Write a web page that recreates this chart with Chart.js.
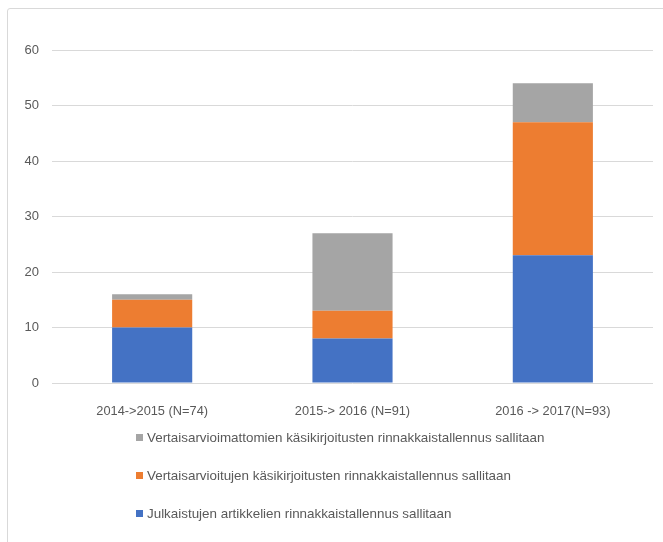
<!DOCTYPE html>
<html>
<head>
<meta charset="utf-8">
<script src="https://cdn.jsdelivr.net/npm/chart.js@4.4.1/dist/chart.umd.min.js"></script>
<style>
  html, body { margin: 0; padding: 0; background: #fff; }
  #wrap { position: relative; width: 663px; height: 542px; overflow: hidden; }
  #frame { position: absolute; left: 7px; top: 8px; width: 700px; height: 600px; border: 1px solid #d9d9d9; border-radius: 3px; }
  #chart { position: absolute; left: 0; top: 0; }
</style>
</head>
<body>
<div id="wrap">
  <div id="frame"></div>
  <canvas id="chart" width="663" height="542"></canvas>
</div>
<script>
const categories = ['2014->2015 (N=74)', '2015-> 2016 (N=91)', '2016 -> 2017(N=93)'];
const seriesNames = [
  'Julkaistujen artikkelien rinnakkaistallennus sallitaan',
  'Vertaisarvioitujen käsikirjoitusten rinnakkaistallennus sallitaan',
  'Vertaisarvioimattomien käsikirjoitusten rinnakkaistallennus sallitaan'
];
const published = [10, 8, 23];
const reviewed = [5, 5, 24];
const unreviewed = [1, 14, 7];
const colors = ['#4472C4', '#ED7D31', '#A5A5A5'];

const fontFamily = "'Liberation Sans', 'DejaVu Sans', sans-serif";
const textColor = '#595959';

// legend drawn as a vertical list, reversed, left aligned
const listLegend = {
  id: 'listLegend',
  afterDraw(chart) {
    const c = chart.ctx;
    const sets = chart.data.datasets.slice().reverse();
    const base = chart.chartArea.bottom;
    c.save();
    c.font = '13.4px ' + fontFamily;
    c.textBaseline = 'middle';
    sets.forEach((ds, i) => {
      const y = base + 55 + i * 38;
      c.fillStyle = ds.backgroundColor;
      c.fillRect(136, y - 4, 7, 7);
      c.fillStyle = textColor;
      c.fillText(ds.label, 147, y);
    });
    c.restore();
  }
};

new Chart(document.getElementById('chart'), {
  type: 'bar',
  data: {
    labels: categories,
    datasets: [
      { label: seriesNames[0], data: published, backgroundColor: colors[0] },
      { label: seriesNames[1], data: reviewed, backgroundColor: colors[1] },
      { label: seriesNames[2], data: unreviewed, backgroundColor: colors[2] }
    ]
  },
  options: {
    responsive: false,
    animation: false,
    devicePixelRatio: 1,
    layout: { padding: { top: 50, right: 10, bottom: 124, left: 0 } },
    datasets: { bar: { categoryPercentage: 1, barPercentage: 0.4 } },
    plugins: { legend: { display: false }, tooltip: { enabled: false } },
    scales: {
      x: {
        stacked: true,
        grid: { display: false },
        border: { display: false },
        ticks: { color: textColor, font: { family: fontFamily, size: 12.8 }, padding: 13 },
        afterFit(s) { s.height = 35; }
      },
      y: {
        stacked: true,
        min: 0, max: 60,
        ticks: { stepSize: 10, color: textColor, font: { family: fontFamily, size: 13 }, padding: 13 },
        grid: { color: '#d9d9d9', drawTicks: false },
        border: { display: false },
        afterFit(s) { s.width = 52; }
      }
    }
  },
  plugins: [listLegend]
});
</script>
</body>
</html>
